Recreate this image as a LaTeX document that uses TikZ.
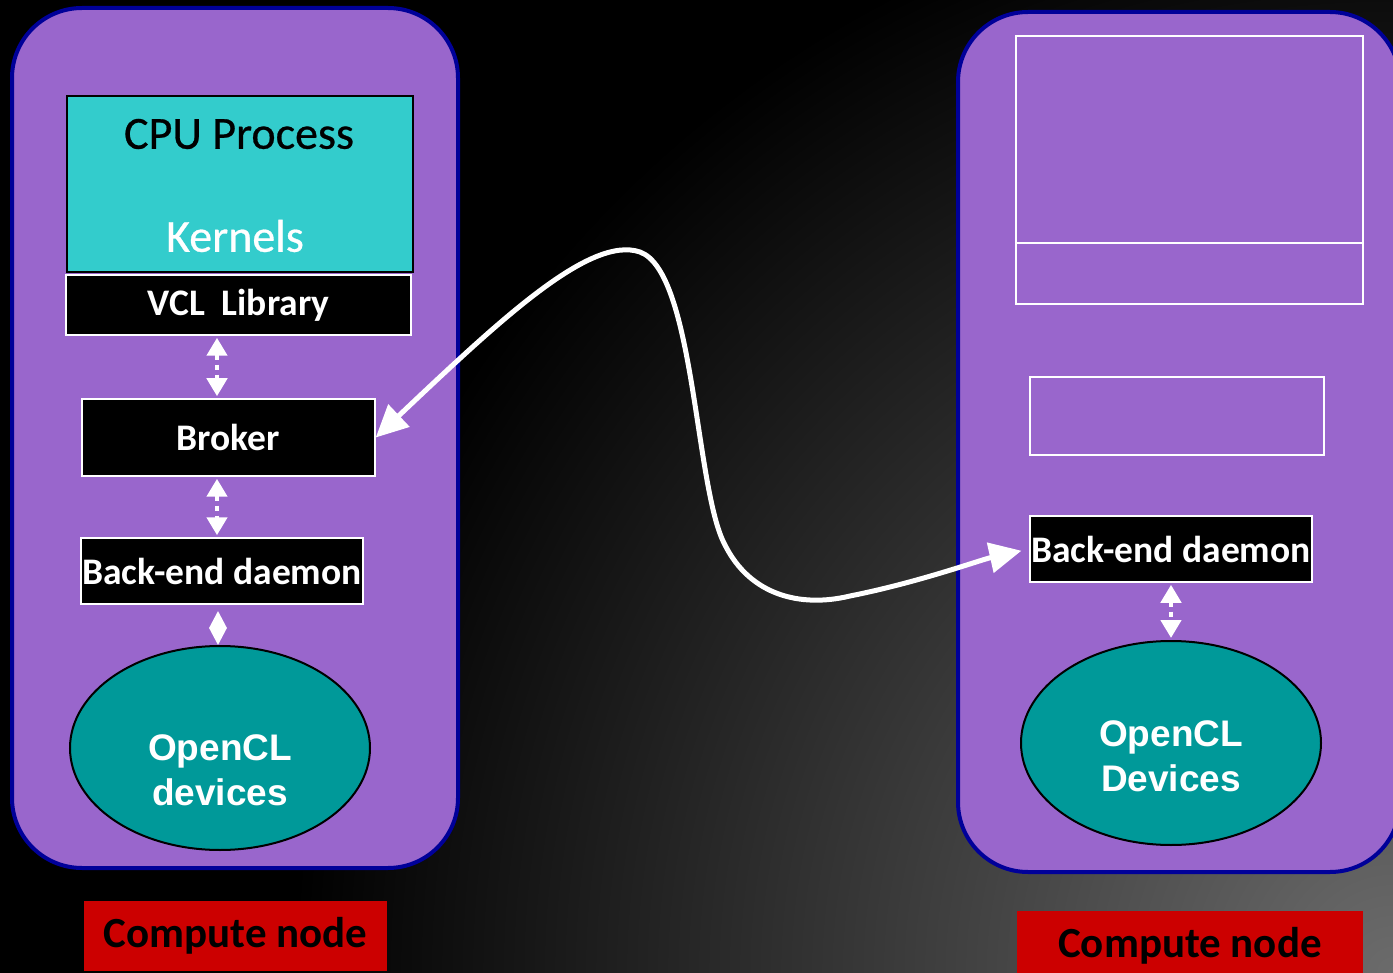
\documentclass[tikz,border=0pt]{standalone}
\usepackage{fontspec}
\setmainfont{Carlito}
\newfontfamily\arialfont{Liberation Sans}
\usetikzlibrary{shapes.geometric,arrows.meta}
\definecolor{panelfill}{HTML}{9966CC}
\definecolor{paneledge}{HTML}{000099}
\definecolor{cpufill}{HTML}{33CCCC}
\definecolor{devfill}{HTML}{009999}
\definecolor{labelred}{HTML}{CC0000}
\tikzset{
  panel/.style={fill=panelfill, draw=paneledge, line width=4pt, rounded corners=70pt},
  blackbox/.style={fill=black, draw=white, line width=1.5pt, text=white, font=\fontsize{37.5}{44}\selectfont\bfseries, inner sep=0pt},
  emptybox/.style={draw=white, line width=2pt, inner sep=0pt},
  device/.style={ellipse, fill=devfill, draw=black, line width=2pt, minimum width=300pt, minimum height=204pt, inner sep=0pt},
  devtext/.style={text=white, align=center, font=\arialfont\fontsize{37}{45}\selectfont\bfseries},
  cputext/.style={font=\addfontfeatures{FakeBold=0.6}\fontsize{46}{52}\selectfont},
  redlabel/.style={fill=labelred, inner sep=0pt, font=\fontsize{43}{48}\selectfont\bfseries, text=black},
  dotlink/.style={white, line width=4.5pt, dash pattern=on 5pt off 5pt, {Triangle[length=18pt,width=20pt]}-{Triangle[length=18pt,width=20pt]}, shorten <=2pt, shorten >=2pt},
  bigarrow/.style={white, line width=5pt, {Triangle[length=32pt,width=30pt]}-{Triangle[length=32pt,width=30pt]}}
}
\begin{document}
\begin{tikzpicture}[x=1pt,y=-1pt]
\useasboundingbox (0,0) rectangle (1393,973);
\clip (0,0) rectangle (1393,973);
% background
\fill[black] (0,0) rectangle (1393,973);
\shade[inner color=black!58, outer color=black] (1393,973) circle (1100pt);
% panels
\draw[panel] (12,8) rectangle (458,868);
\draw[panel] (958,12) rectangle (1400,872);
% left column
\node[fill=cpufill, draw=black, line width=2pt, minimum width=346pt, minimum height=176pt, inner sep=0pt] (cpu) at (240,184) {};
\node[cputext, text=black] (cpulabel) at (239,134) {CPU Process};
\node[cputext, text=white] (kernels) at (235,236) {Kernels};
\node[blackbox, minimum width=345pt, minimum height=60pt] (vcl) at (238.5,305) {VCL\ \ Library};
\node[blackbox, minimum width=293pt, minimum height=77pt] (broker) at (228.5,437.5) {Broker};
\node[blackbox, minimum width=282pt, minimum height=66pt] (bedl) at (222,571) {Back-end daemon};
\node[device] (devl) at (220,748) {};
\node[devtext] (devltext) at ([yshift=-22pt]devl.center) {OpenCL\\devices};
\draw[dotlink] (vcl.south -| 217,0) -- (broker.north -| 217,0);
\draw[dotlink] (broker.south -| 217,0) -- (bedl.north -| 217,0) ;
\node[diamond, fill=white, inner sep=0pt, minimum width=18pt, minimum height=34pt] (dia) at (218,628) {};
% right column
\node[emptybox, minimum width=347pt, minimum height=268pt] (bigbox) at (1189.5,170) {};
\draw[white, line width=2pt] (1016,243) coordinate (hl) -- (1363,243) coordinate (hr);
\node[emptybox, minimum width=294pt, minimum height=78pt] (midbox) at (1177,416) {};
\node[blackbox, minimum width=282pt, minimum height=66pt] (bedr) at (1171,549) {Back-end daemon};
\node[device] (devr) at (1171,743) {};
\node[devtext] (devrtext) at ([yshift=-13pt]devr.center) {OpenCL\\Devices};
\draw[dotlink] (bedr.south) -- (devr.north);
% connector
\draw[bigarrow, shorten >=8pt] (broker.east) .. controls (500,320) and (590,235) .. (640,252)
  .. controls (695,272) and (695,490) .. (725,545)
  .. controls (750,595) and (800,608) .. (850,596)
  .. controls (920,582) and (980,560) .. (bedr.west);
% labels
\node[redlabel, minimum width=303pt, minimum height=70pt] (lblL) at (235.5,936) {Compute node};
\node[redlabel, minimum width=346pt, minimum height=70pt] (lblR) at (1190,946) {Compute node};
\end{tikzpicture}
\end{document}
